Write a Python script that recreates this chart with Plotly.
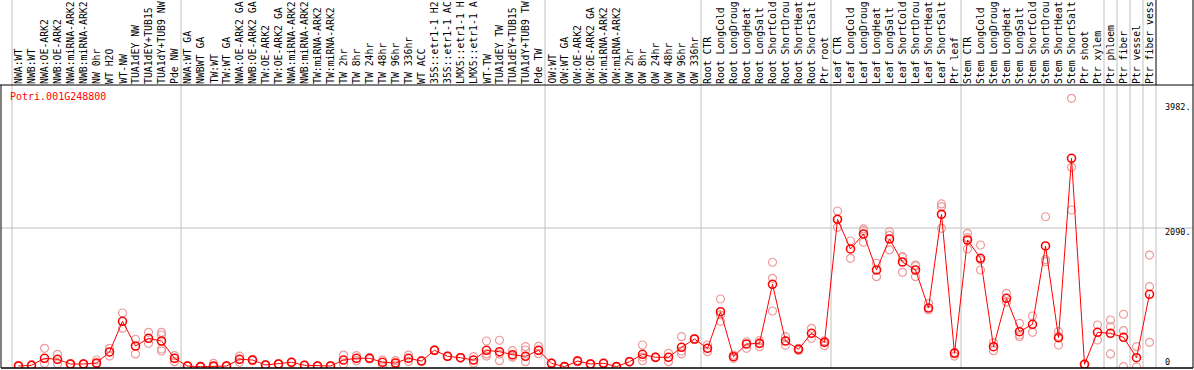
import plotly.graph_objects as go

gene_id = "Potri.001G248800"

labels = [
    "NWA:WT", "NWB:WT", "NWA:OE-ARK2", "NWB:OE-ARK2", "NWA:miRNA-ARK2", "NWB:miRNA-ARK2",
    "NW 0hr", "WT H2O", "WT-NW", "TUA1dEY NW", "TUA1dEY+TUB15 NW", "TUA1dY+TUB9 NW", "Pde NW",
    "NWA:WT GA", "NWBWT GA", "TW:WT", "TW:WT GA", "NWA:OE-ARK2 GA", "NWB:OE-ARK2 GA",
    "TW:OE-ARK2", "TW:OE-ARK2 GA", "NWA:miRNA-ARK2 GA", "NWB:miRNA-ARK2 GA", "TW:miRNA-ARK2",
    "TW:miRNA-ARK2 GA", "TW 2hr", "TW 8hr", "TW 24hr", "TW 48hr", "TW 96hr", "TW 336hr",
    "WT ACC", "35S::etr1-1 H2O", "35S::etr1-1 ACC", "LMX5::etr1-1 H2O", "LMX5::etr1-1 ACC",
    "WT-TW", "TUA1dEY TW", "TUA1dEY+TUB15 TW", "TUA1dY+TUB9 TW", "Pde TW",
    "OW:WT", "OW:WT GA", "OW:OE-ARK2", "OW:OE-ARK2 GA", "OW:miRNA-ARK2", "OW:miRNA-ARK2 GA",
    "OW 2hr", "OW 8hr", "OW 24hr", "OW 48hr", "OW 96hr", "OW 336hr",
    "Root CTR", "Root LongCold", "Root LongDrought", "Root LongHeat", "Root LongSalt",
    "Root ShortCold", "Root ShortDrought", "Root ShortHeat", "Root ShortSalt", "Ptr root",
    "Leaf CTR", "Leaf LongCold", "Leaf LongDrought", "Leaf LongHeat", "Leaf LongSalt",
    "Leaf ShortCold", "Leaf ShortDrought", "Leaf ShortHeat", "Leaf ShortSalt", "Ptr leaf",
    "Stem CTR", "Stem LongCold", "Stem LongDrought", "Stem LongHeat", "Stem LongSalt",
    "Stem ShortCold", "Stem ShortDrought", "Stem ShortHeat", "Stem ShortSalt", "Ptr shoot",
    "Ptr xylem", "Ptr phloem", "Ptr fiber", "Ptr vessel", "Ptr fiber vessel",
]

group_sizes = [13, 28, 12, 10, 10, 11, 1, 1, 1, 1]

means = [
    15, 26, 131, 116, 45, 45, 60, 226, 687, 316, 432, 391, 131,
    15, 5, 15, 15, 116, 105, 30, 45, 71, 26, 15, 15, 105, 131, 131, 71, 60, 131, 90,
    251, 161, 140, 105, 251, 230, 185, 161, 251,
    56, 5, 90, 45, 56, 5, 80, 191, 146, 146, 296, 421,
    281, 832, 155, 346, 356, 1244, 391, 266, 507, 371,
    2221, 1775, 2000, 1459, 1925, 1579, 1459, 887, 2296, 206,
    1910, 1635, 305, 1033, 531, 642, 1820, 441, 3139, 41, 522,
    507, 447, 140, 1093,
]

replicates = [
    [10, 25], [20, 35], [281, 56], [191, 45], [40, 50], [40, 50], [105, 45], [281, 165],
    [812, 582], [417, 196], [522, 356], [522, 481, 271, 241], [80, 170],
    [10, 20], [0, 10], [56, 0], [10, 20], [165, 70], [95, 115], [25, 35], [40, 50],
    [65, 75], [20, 30], [10, 20], [10, 20], [180, 45], [170, 95], [120, 140],
    [105, 26], [95, 30], [180, 86], [85, 95], [245, 258], [155, 168], [135, 145],
    [155, 60], [391, 165, 197], [402, 95, 195], [245, 165, 145], [305, 256, 80],
    [311, 200, 245],
    [50, 62], [0, 10], [80, 100], [40, 50], [50, 60], [0, 10], [75, 85],
    [331, 95, 150], [140, 150], [206, 80], [456, 196, 240], [415, 428],
    [331, 230], [1023, 687, 785], [180, 130], [380, 281], [396, 305],
    [1575, 1334, 842], [456, 326], [281, 250], [582, 432], [320, 395],
    [2346, 2101, 2215], [1895, 1635], [2076, 1875, 2050], [1560, 1358],
    [2035, 1760, 1980], [1659, 1424, 1650], [1534, 1358, 1520], [958, 857],
    [2452, 2411, 2086], [165, 220],
    [2011, 1945, 1775], [1835, 1459, 1610], [366, 245], [1108, 978],
    [657, 481, 455], [767, 522], [2260, 1584, 1615], [531, 331, 460],
    [4041, 3003, 2361], [35, 45], [632, 406],
    [707, 606, 196], [793, 546, 5], [305, 0], [1684, 1208, 371],
]

y_ticks = [3982, 2090, 0]
y_tick_text = ["3982.", "2090.", "0"]

# ---- geometry (pixels) ----
W, H = 1194, 370
L, R, T, B = 1, 1, 85, 2
plot_w = W - L - R
plot_h = H - T - B
col_px = 13.0
first_center_px = 18.5
x0 = (L - first_center_px) / col_px
x1 = x0 + plot_w / col_px
y_min, y_max = -15, 4241
top_paper = 1 + T / plot_h
MAX_CHARS = 14  # header cell fits ~14 characters

n = len(labels)
xs = list(range(n))

rx, ry = [], []
for i, reps in enumerate(replicates):
    for v in reps:
        rx.append(i)
        ry.append(v)

fig = go.Figure()
fig.add_trace(go.Scatter(
    x=rx, y=ry, mode="markers",
    marker=dict(symbol="circle-open", size=8, color="#EE9A9A", line=dict(width=1.2, color="#EE9A9A")),
    hoverinfo="skip", showlegend=False,
))
fig.add_trace(go.Scatter(
    x=xs, y=means, mode="lines+markers",
    line=dict(color="#FF0000", width=1),
    marker=dict(symbol="circle-open", size=8, color="#FF0000", line=dict(width=1.6, color="#FF0000")),
    showlegend=False,
))

shapes = []
GRAY = "#C0C0C0"
b = -0.5
bounds = [b]
for g in group_sizes:
    b += g
    bounds.append(b)
for k, bx in enumerate(bounds):
    if k == len(bounds) - 1:
        shapes.append(dict(type="line", xref="x", yref="paper", x0=bx, x1=bx, y0=0, y1=1,
                           line=dict(color=GRAY, width=1), layer="below"))
        shapes.append(dict(type="line", xref="x", yref="paper", x0=bx, x1=bx, y0=1, y1=top_paper,
                           line=dict(color="black", width=1)))
    else:
        shapes.append(dict(type="line", xref="x", yref="paper", x0=bx, x1=bx, y0=0, y1=top_paper,
                           line=dict(color=GRAY, width=1), layer="below"))
shapes.append(dict(type="line", xref="paper", yref="y", x0=0, x1=1, y0=y_ticks[1], y1=y_ticks[1],
                   line=dict(color=GRAY, width=1), layer="below"))
shapes.append(dict(type="line", xref="paper", yref="paper", x0=-1 / plot_w, x1=1, y0=1, y1=1,
                   line=dict(color="black", width=1)))
shapes.append(dict(type="line", xref="paper", yref="paper", x0=0, x1=1, y0=0, y1=0,
                   line=dict(color="black", width=1.5)))
shapes.append(dict(type="line", xref="paper", yref="paper", x0=0, x1=0, y0=0, y1=1,
                   line=dict(color="black", width=1)))
shapes.append(dict(type="line", xref="paper", yref="paper", x0=1, x1=1, y0=0, y1=top_paper,
                   line=dict(color="black", width=1)))

FONT = "DejaVu Sans Mono"
annotations = []
for i, lab in enumerate(labels):
    annotations.append(dict(
        x=i, y=1, xref="x", yref="paper", text=lab[:MAX_CHARS], textangle=-90,
        showarrow=False, xanchor="center", yanchor="bottom", yshift=0,
        font=dict(family=FONT, size=9.8, color="black"), borderpad=0,
    ))
annotations.append(dict(
    x=(9 - L) / plot_w, y=(H - B - 97) / plot_h, xref="paper", yref="paper",
    text=gene_id, showarrow=False, xanchor="left", yanchor="middle",
    font=dict(family=FONT, size=10, color="#FF0000"), borderpad=0,
))
shifts = [-5, -4, 5]
for v, t, s in zip(y_ticks, y_tick_text, shifts):
    annotations.append(dict(
        x=(1164 - L) / plot_w, y=v, xref="paper", yref="y", text=t, showarrow=False,
        xanchor="left", yanchor="middle", yshift=s,
        font=dict(family=FONT, size=8.5, color="black"), borderpad=0,
    ))

fig.update_layout(
    width=W, height=H,
    margin=dict(l=L, r=R, t=T, b=B, pad=0),
    paper_bgcolor="white", plot_bgcolor="white",
    xaxis=dict(range=[x0, x1], visible=False, fixedrange=True),
    yaxis=dict(range=[y_min, y_max], visible=False, fixedrange=True),
    shapes=shapes, annotations=annotations,
    showlegend=False,
)

fig.write_html(
    "out.html",
    config={"displayModeBar": False},
    post_script="document.body.style.margin='0';document.body.style.overflow='hidden';",
)
